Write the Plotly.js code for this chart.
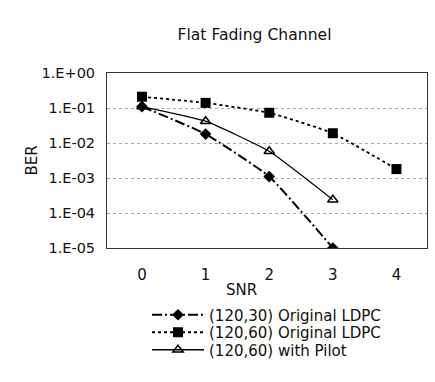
<!DOCTYPE html>
<html>
<head>
<meta charset="utf-8">
<script src="https://cdn.plot.ly/plotly-3.0.1.min.js"></script>
<style>html,body{margin:0;padding:0;background:#fff;}#chart{width:435px;height:382px;}</style>
</head>
<body>
<div id="chart"></div>
<script>
const snr = [0, 1, 2, 3, 4];
const snrLabels = ["0", "1", "2", "3", "4"];
const berLdpc30 = [0.11, 0.018, 0.0011, 0.00001];
const berLdpc60 = [0.21, 0.14, 0.073, 0.019, 0.0018];
const berPilot60 = [0.11, 0.042, 0.0058, 0.00024];
const yTickVals = [1, 0.1, 0.01, 0.001, 0.0001, 0.00001];
const yTickText = ["1.E+00", "1.E-01", "1.E-02", "1.E-03", "1.E-04", "1.E-05"];
const seriesNames = ["(120,30) Original LDPC", "(120,60) Original LDPC", "(120,60) with Pilot"];

const font = "DejaVu Sans, Liberation Sans, sans-serif";

const traces = [
  {
    x: snr.slice(0, berLdpc30.length), y: berLdpc30, name: seriesNames[0],
    mode: "lines+markers", type: "scatter", legend: "legend",
    line: {color: "#000", width: 2, dash: "10px,3px,2px,3px", shape: "spline", smoothing: 0.4},
    marker: {symbol: "diamond", size: 9, color: "#000"}
  },
  {
    x: snr.slice(0, berLdpc60.length), y: berLdpc60, name: seriesNames[1],
    mode: "lines+markers", type: "scatter", legend: "legend2",
    line: {color: "#000", width: 1.8, dash: "dot", shape: "spline", smoothing: 0.4},
    marker: {symbol: "square", size: 10, color: "#000"}
  },
  {
    x: snr.slice(0, berPilot60.length), y: berPilot60, name: seriesNames[2],
    mode: "lines+markers", type: "scatter", legend: "legend3",
    line: {color: "#000", width: 1.3, shape: "spline", smoothing: 0.4},
    marker: {symbol: "triangle-up-open", size: 9, color: "#000", line: {width: 1.5, color: "#000"}}
  }
];

function legendAt(yPx) {
  return {
    x: 0.125, y: -(yPx - 248) / 175, xanchor: "left", yanchor: "middle",
    bgcolor: "rgba(0,0,0,0)", borderwidth: 0,
    font: {family: font, size: 15, color: "#111"}, itemwidth: 52
  };
}

const layout = {
  width: 435, height: 382,
  margin: {l: 107, r: 8, t: 73, b: 134},
  paper_bgcolor: "#fff", plot_bgcolor: "#fff",
  font: {family: font, size: 14, color: "#111"},
  showlegend: true,
  title: {text: "Flat Fading Channel", font: {family: font, size: 15.6, color: "#111"},
          x: 0.585, xanchor: "center", y: 1 - 35/382, yanchor: "middle"},
  xaxis: {
    range: [-0.55, 4.48], tickvals: snr, ticktext: snrLabels,
    showgrid: false, zeroline: false,
    showline: true, mirror: true, linecolor: "#333", linewidth: 1,
    ticks: "", ticklabelstandoff: 13, tickfont: {size: 15},
    title: {text: ""}
  },
  yaxis: {
    type: "log", range: [-5, 0],
    tickvals: yTickVals, ticktext: yTickText,
    showgrid: true, gridcolor: "#aaa", griddash: "dot", gridwidth: 1,
    zeroline: false, showline: true, mirror: true, linecolor: "#333", linewidth: 1,
    ticks: "", ticklabelstandoff: 8, tickfont: {size: 14.5},
    title: {text: "BER", font: {size: 15}, standoff: 0}
  },
  legend: legendAt(315),
  legend2: legendAt(332.5),
  legend3: legendAt(350),
  annotations: [
    {text: "SNR", xref: "paper", yref: "paper", x: (241-107)/320, y: -(290-248)/175,
     xanchor: "center", yanchor: "middle", showarrow: false, font: {size: 15}}
  ]
};

Plotly.newPlot("chart", traces, layout, {staticPlot: true, displayModeBar: false});
</script>
</body>
</html>
